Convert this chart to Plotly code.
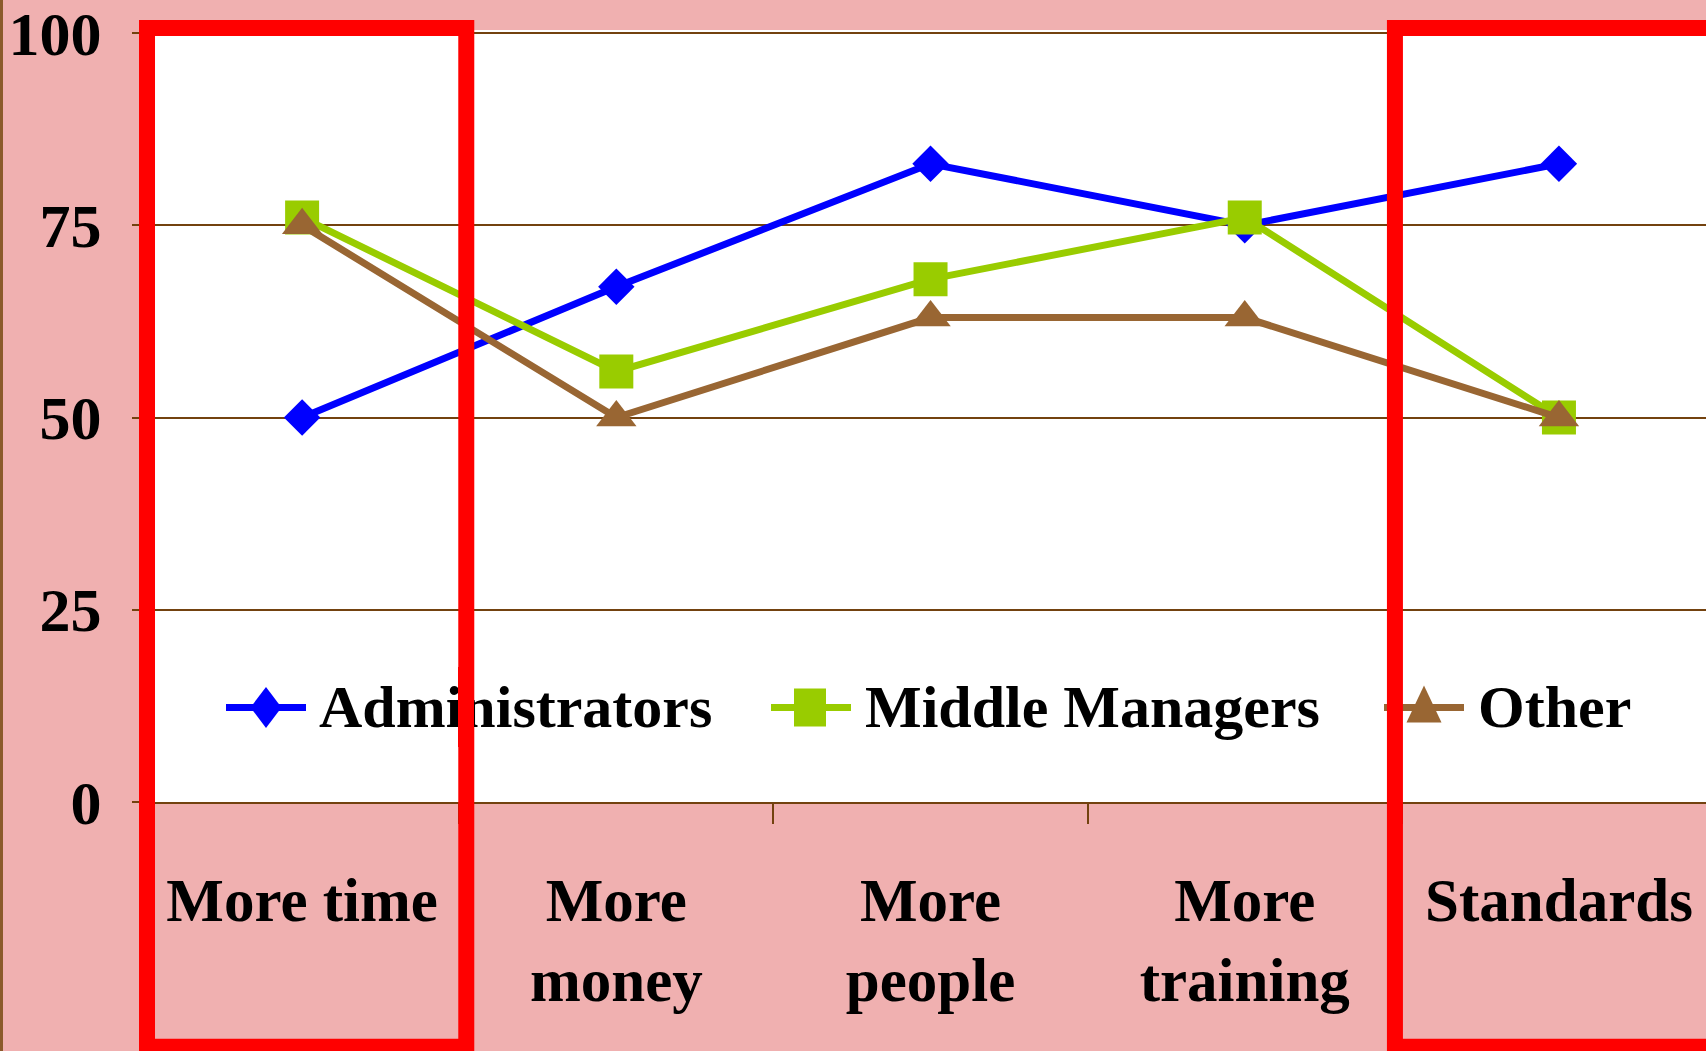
import plotly.graph_objects as go

categories = ["More time", "More<br>money", "More<br>people", "More<br>training", "Standards"]
series_names = ["Administrators", "Middle Managers", "Other"]
administrators = [50, 67, 83, 75, 83]
middle_managers = [76, 56, 68, 76, 50]
other = [75, 50, 63, 63, 50]
y_ticks = [0, 25, 50, 75, 100]
# red boxes drawn around the first and the last category (extent in category units)
box_spans = [(-0.4936, 0.5225), (3.478, 4.497)]

FONT = "Liberation Serif, Times New Roman, serif"
BROWN = "#73420F"
PINK = "#F0B0B0"
RED = "#FF0000"
COLORS = ["#0000FF", "#99CC00", "#996633"]
SYMBOLS = ["diamond", "square", "triangle-up"]
SIZES = [28, 34, 35]

W, H = 1706, 1051
ML, MR, MT, MB = 145, 0, 26, 249
PW, PH = W - ML - MR, H - MT - MB
X_RANGE = [-0.5, 4.468]


def px_x(px):
    return (px - ML) / PW


def px_y(py):
    return (H - MB - py) / PH


def cat_to_paper(v):
    return (v - X_RANGE[0]) / (X_RANGE[1] - X_RANGE[0])


fig = go.Figure()
for name, vals, col, sym, sz in zip(series_names, [administrators, middle_managers, other],
                                    COLORS, SYMBOLS, SIZES):
    fig.add_trace(go.Scatter(x=categories, y=vals, name=name, mode="lines+markers",
                             line=dict(color=col, width=7),
                             marker=dict(symbol=sym, size=sz, color=col),
                             showlegend=False))

# ---- hand-made legend (layout decoration) ----
LEG_Y = 707
leg_line = [(226, 306), (771, 851), (1384, 1464)]
leg_center = [266, 810, 1424]
leg_text_x = [317, 863, 1476]
leg_paths = [
    "M0,20.5 L15.5,0 L0,-20.5 L-15.5,0 Z",
    "M-16,19 L16,19 L16,-19 L-16,-19 Z",
    "M-17.5,-15 L17.5,-15 L0,22 Z",
]
for (lx0, lx1), cx, tx, path, col, name in zip(leg_line, leg_center, leg_text_x, leg_paths,
                                                  COLORS, series_names):
    fig.add_shape(type="line", xref="paper", yref="paper", x0=px_x(lx0), x1=px_x(lx1),
                  y0=px_y(LEG_Y), y1=px_y(LEG_Y), line=dict(color=col, width=7), layer="above")
    fig.add_shape(type="path", xref="paper", yref="paper", xsizemode="pixel", ysizemode="pixel",
                  xanchor=px_x(cx), yanchor=px_y(LEG_Y), path=path, fillcolor=col,
                  line=dict(width=0), layer="above")
    fig.add_annotation(xref="paper", yref="paper", x=px_x(tx), y=px_y(LEG_Y), xanchor="left",
                       yanchor="middle", text=name, showarrow=False,
                       font=dict(family=FONT, size=60, color="#000000", weight="bold"))

# ---- red highlight boxes ----
for x0, x1 in box_spans:
    fig.add_shape(type="rect", xref="paper", yref="paper",
                  x0=cat_to_paper(x0), x1=cat_to_paper(x1),
                  y0=px_y(1048), y1=px_y(24),
                  line=dict(color=RED, width=16), fillcolor="rgba(0,0,0,0)", layer="above")
# the first box edge passes over the first legend label
fig.add_annotation(xref="paper", yref="paper", x=cat_to_paper(box_spans[0][1]),
                   y=px_y(LEG_Y), xanchor="center", yanchor="middle", text=" ", showarrow=False,
                   width=16, height=80, bgcolor=RED, borderpad=0, borderwidth=0,
                   font=dict(size=8))

# thin textured strip on far left edge
fig.add_shape(type="rect", xref="paper", yref="paper", x0=px_x(0), x1=px_x(3),
              y0=px_y(H + 5), y1=px_y(-5), line=dict(width=0), fillcolor="#8B5A2B",
              layer="above")

fig.update_layout(
    width=W, height=H, autosize=False,
    margin=dict(l=ML, r=MR, t=MT, b=MB, pad=0),
    paper_bgcolor=PINK, plot_bgcolor="#FFFFFF",
    font=dict(family=FONT, size=60, color="#000000", weight="bold"),
    showlegend=False,
    xaxis=dict(type="category", range=X_RANGE, tickson="boundaries",
               ticks="outside", ticklen=20, tickwidth=2, tickcolor=BROWN,
               showline=True, linecolor=BROWN, linewidth=2, showgrid=False, zeroline=False,
               ticklabelstandoff=44,
               tickfont=dict(family=FONT, size=61, color="#000000", weight="bold")),
    yaxis=dict(range=[0, 100.4], tickvals=y_ticks, ticks="outside", ticklen=12, tickwidth=2,
               tickcolor=BROWN, showgrid=True, gridcolor=BROWN, gridwidth=2, zeroline=False,
               showline=False, ticklabelstandoff=18, ticklabeloverflow="allow",
               tickfont=dict(family=FONT, size=62, color="#000000", weight="bold")),
)

fig.write_html("out.html", config={"displayModeBar": False},
               post_script="document.body.style.margin='0';document.body.style.overflow='hidden';")
